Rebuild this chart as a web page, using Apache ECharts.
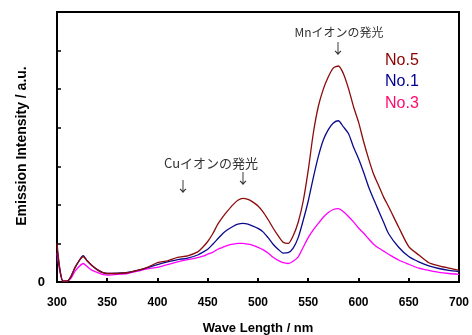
<!DOCTYPE html>
<html>
<head>
<meta charset="utf-8">
<script src="https://cdn.jsdelivr.net/npm/echarts@6/dist/echarts.min.js"></script>
<style>html,body{margin:0;padding:0;background:#fff;}#c{width:472px;height:335px;}</style>
</head>
<body>
<div id="c"></div>
<script>
const wavelengths = [300,303,306,310,314,318,322,326,330,335,340,345,350,360,370,380,390,400,410,420,430,440,445,450,455,460,465,470,475,480,485,490,495,500,505,510,515,520,525,530,535,540,545,550,555,560,565,570,575,580,585,590,595,600,605,610,615,620,625,630,640,650,660,670,680,690,700];
const no5 = [1.0,0.3,0.02,0.02,0.15,0.38,0.55,0.66,0.55,0.42,0.32,0.25,0.22,0.22,0.24,0.3,0.38,0.5,0.55,0.64,0.68,0.78,0.9,1.05,1.25,1.5,1.69,1.85,2.0,2.12,2.17,2.14,2.07,1.97,1.82,1.62,1.4,1.2,1.03,1.0,1.2,1.55,2.1,2.9,3.85,4.55,5.0,5.32,5.55,5.6,5.4,5.02,4.55,4.15,3.65,3.2,2.8,2.5,2.2,1.95,1.42,0.92,0.7,0.5,0.42,0.36,0.3];
const no1 = [0.9,0.3,0.02,0.02,0.15,0.38,0.55,0.68,0.55,0.42,0.32,0.25,0.22,0.23,0.25,0.3,0.37,0.45,0.52,0.58,0.62,0.7,0.77,0.85,0.98,1.12,1.26,1.36,1.44,1.5,1.52,1.5,1.45,1.39,1.3,1.15,0.98,0.85,0.75,0.76,0.88,1.15,1.6,2.1,2.7,3.25,3.68,3.95,4.12,4.18,4.02,3.85,3.5,3.2,2.85,2.47,2.15,1.85,1.55,1.25,0.9,0.66,0.52,0.42,0.35,0.3,0.27];
const no3 = [0.75,0.25,0.02,0.02,0.1,0.28,0.4,0.48,0.4,0.3,0.25,0.2,0.18,0.2,0.22,0.28,0.34,0.38,0.45,0.52,0.58,0.63,0.67,0.72,0.77,0.85,0.9,0.95,0.98,1.0,1.0,0.98,0.95,0.9,0.84,0.75,0.64,0.56,0.5,0.48,0.54,0.65,0.9,1.15,1.35,1.52,1.68,1.8,1.88,1.9,1.82,1.7,1.56,1.4,1.27,1.12,0.98,0.88,0.8,0.72,0.57,0.46,0.36,0.3,0.25,0.22,0.2];
const seriesNames = ['No.5','No.1','No.3'];
const xTitle = 'Wave Length / nm';
const yTitle = 'Emission Intensity / a.u.';
const mnNote = 'Mnイオンの発光';
const cuNote = 'Cuイオンの発光';

const pairs = arr => wavelengths.map((w,i)=>[w,arr[i]]);
const chart = echarts.init(document.getElementById('c'));
const lineColors = ['#8b0a0a','#0a0a8c','#ff00ff'];
const legendColors = ['#8b0000','#000090','#ff0a6c'];
const jp = "'Noto Sans CJK JP'";
chart.setOption({
  animation:false,
  grid:{left:57,right:11,top:12,bottom:53,show:true,borderColor:'#000',borderWidth:2,backgroundColor:'transparent'},
  xAxis:{type:'value',min:300,max:700,interval:50,
    axisLine:{lineStyle:{color:'#000',width:2}},
    axisTick:{inside:true,length:4,lineStyle:{color:'#000',width:2}},
    axisLabel:{margin:15,color:'#000',fontWeight:'bold',fontSize:12,fontFamily:'Liberation Sans'},
    splitLine:{show:false}},
  yAxis:{type:'value',min:0,max:7,interval:1,
    axisLine:{show:true,lineStyle:{color:'#000',width:2}},
    axisTick:{show:true,inside:true,length:4,lineStyle:{color:'#000',width:1.5}},
    axisLabel:{margin:12,color:'#000',fontWeight:'bold',fontSize:13,fontFamily:'Liberation Sans',formatter:v=>v===0?'0':''},
    splitLine:{show:false}},
  series:[
    {name:seriesNames[2],type:'line',data:pairs(no3),showSymbol:false,smooth:0.25,lineStyle:{color:lineColors[2],width:1.3}},
    {name:seriesNames[1],type:'line',data:pairs(no1),showSymbol:false,smooth:0.25,lineStyle:{color:lineColors[1],width:1.3}},
    {name:seriesNames[0],type:'line',data:pairs(no5),showSymbol:false,smooth:0.25,lineStyle:{color:lineColors[0],width:1.3}}
  ],
  graphic:[
    {type:'text',x:22,y:146,rotation:Math.PI/2,style:{text:yTitle,align:'center',verticalAlign:'middle',font:'bold 14px "Liberation Sans"',fill:'#000'}},
    {type:'text',style:{x:258,y:328,text:xTitle,align:'center',verticalAlign:'middle',font:'bold 13px "Liberation Sans"',fill:'#000'}},
    {type:'text',style:{x:385,y:61,text:seriesNames[0],align:'left',verticalAlign:'middle',font:'16px "Liberation Sans"',fill:legendColors[0]}},
    {type:'text',style:{x:385,y:82,text:seriesNames[1],align:'left',verticalAlign:'middle',font:'16px "Liberation Sans"',fill:legendColors[1]}},
    {type:'text',style:{x:385,y:104,text:seriesNames[2],align:'left',verticalAlign:'middle',font:'16px "Liberation Sans"',fill:legendColors[2]}},
    {type:'text',style:{x:339,y:32,text:mnNote,align:'center',verticalAlign:'middle',font:'12px '+jp,fill:'#333'}},
    {type:'text',style:{x:338,y:48,text:'↓',align:'center',verticalAlign:'middle',font:'14px '+jp,fill:'#333'}},
    {type:'text',style:{x:211,y:163,text:cuNote,align:'center',verticalAlign:'middle',font:'13px '+jp,fill:'#333'}},
    {type:'text',style:{x:183,y:186,text:'↓',align:'center',verticalAlign:'middle',font:'14px '+jp,fill:'#333'}},
    {type:'text',style:{x:243,y:178,text:'↓',align:'center',verticalAlign:'middle',font:'14px '+jp,fill:'#333'}}
  ]
});
</script>
</body>
</html>
